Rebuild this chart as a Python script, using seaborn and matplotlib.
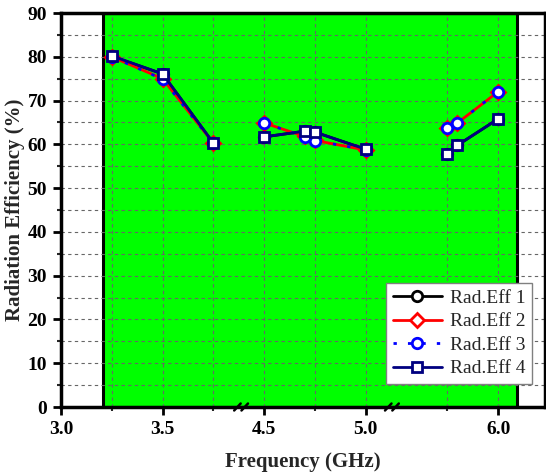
import matplotlib
matplotlib.use("Agg")
import matplotlib.pyplot as plt
from matplotlib.patches import Rectangle
import seaborn as sns
import numpy as np

# frequency groups (GHz) - axis is broken between groups
freq_groups = [[3.25, 3.5, 3.75], [4.5, 4.7, 4.75, 5.0], [5.75, 5.8, 6.0]]

eff1 = [[80.1, 76.1, 60.3], [61.7, 63.0, 62.8, 58.9], [57.8, 59.8, 65.8]]
eff2 = [[80.0, 75.0, 60.3], [64.9, 61.8, 60.9, 58.7], [63.7, 64.9, 72.0]]
eff3 = [[80.0, 74.9, 60.3], [64.9, 61.7, 60.8, 58.8], [63.7, 64.9, 72.0]]
eff4 = [[80.2, 76.1, 60.3], [61.7, 63.0, 62.8, 58.9], [57.8, 59.8, 65.8]]

tick_freqs = [3.0, 3.5, 4.5, 5.0, 6.0]
tick_labels = ["3.0", "3.5", "4.5", "5.0", "6.0"]
minor_freqs = [3.25, 3.75, 4.75, 5.75]


def to_u(f):
    # broken axis: shift later segments left
    f = np.asarray(f, dtype=float)
    return np.where(f < 4.2, f, np.where(f < 5.3, f - 0.5, f - 0.847))


sns.set_theme(style="white")
plt.rcParams['font.family'] = ['Liberation Serif', 'DejaVu Serif']

fig = plt.figure(figsize=(5.46, 4.73), dpi=100)
ax = fig.add_axes([61 / 546, 1 - 407 / 473, 484 / 546, 394 / 473])

ax.add_patch(Rectangle((3.207, 0), 5.246 - 3.207, 90, facecolor="#00FF00",
                       edgecolor="black", linewidth=2.2, zorder=0.2))

styles = [
    dict(data=eff1, label="Rad.Eff 1", color="black", marker="o", mfc="white",
         mec="black", ls="-"),
    dict(data=eff2, label="Rad.Eff 2", color="red", marker="D", mfc="white",
         mec="red", ls="-"),
    dict(data=eff3, label="Rad.Eff 3", color="blue", marker="o", mfc="white",
         mec="blue", ls=(0, (1.2, 4))),
    dict(data=eff4, label="Rad.Eff 4", color="#000080", marker="s", mfc="white",
         mec="#000080", ls="-"),
]

for s in styles:
    for i, (fg, vals) in enumerate(zip(freq_groups, s["data"])):
        sns.lineplot(x=to_u(fg), y=vals, ax=ax, color=s["color"], linestyle=s["ls"],
                     linewidth=2, marker=s["marker"], markersize=7.5,
                     markerfacecolor=s["mfc"], markeredgecolor=s["mec"],
                     markeredgewidth=2, label=s["label"] if i == 0 else None,
                     legend=False, estimator=None, sort=False)

ax.set_xlim(3.0, 5.384)
ax.set_ylim(0, 90)
ax.set_xticks(to_u(tick_freqs))
ax.set_xticklabels(tick_labels)
ax.set_xticks(to_u(minor_freqs), minor=True)
ax.set_yticks(np.arange(0, 91, 10))
ax.set_yticks(np.arange(5, 90, 10), minor=True)

for t in ax.get_xticklabels() + ax.get_yticklabels():
    t.set_fontweight("bold")
    t.set_fontsize(14)

ax.tick_params(which="major", direction="out", length=6, width=2, bottom=True,
               left=True, pad=4, colors="black")
ax.tick_params(which="minor", direction="out", length=3, width=1.5, bottom=True,
               left=True)

ax.grid(True, which="both", color="#666666", linestyle=(0, (3, 3)), linewidth=0.8)
ax.set_axisbelow("line")

for sp in ax.spines.values():
    sp.set_linewidth(2.5)
    sp.set_color("black")

# break marks on the x axis: two short slashes crossing the axis
for xb in [3.887, 4.63]:
    for dx in [-0.018, 0.018]:
        ax.plot([xb + dx - 0.016, xb + dx + 0.016], [-0.8, 0.8], color="black",
                lw=1.8, clip_on=False, zorder=5)

ax.set_xlabel("Frequency (GHz)", fontsize=15, fontweight="bold", labelpad=10)
ax.set_ylabel("Radiation Efficiency (%)", fontsize=15, fontweight="bold")
ax.yaxis.set_label_coords(-0.074, 0.5)

leg = ax.legend(loc="lower right", bbox_to_anchor=(0.973, 0.058), borderaxespad=0,
                fontsize=14, frameon=True, fancybox=False, framealpha=1,
                edgecolor="gray", handlelength=2.5, borderpad=0.35,
                labelspacing=0.3, handletextpad=0.4)
leg.get_frame().set_linewidth(1)

fig.savefig("out.png", dpi=100)
